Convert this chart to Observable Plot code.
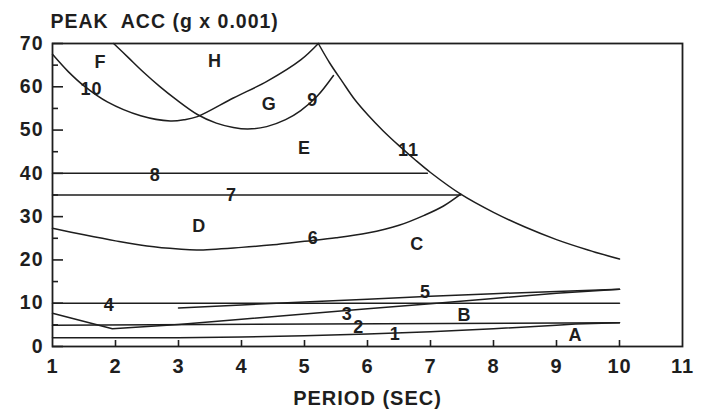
<!DOCTYPE html>
<html><head><meta charset="utf-8">
<script src="https://cdn.jsdelivr.net/npm/d3@7"></script>
<script src="https://cdn.jsdelivr.net/npm/@observablehq/plot@0.6"></script>
<style>
body{margin:0;background:#fff}
svg text{letter-spacing:1px}
</style>
</head><body><div id="chart"></div>
<script>
// Axis ticks
const xTickLabels = [1,2,3,4,5,6,7,8,9,10,11];
const xInnerTicks = [2,3,4,5,6,7,8,9,10];
const yTickLabels = [0,10,20,30,40,50,60,70];
const yMinorTicks = [5,15,25,35,45,55,65];

// Curves: [period (sec), peak acc (g x 0.001)]
const line1 = [[1,2],[2,2],[3,2],[4,2.2],[5,2.5],[6,2.9],[7,3.4],[8,4.1],[9,4.9],[9.3,5.2],[10,5.5]];
const line2 = [[1,4.9],[10,5.5]];
const line3 = [[1,7.7],[1.95,4.1],[3,5.1],[4,6.3],[5,7.5],[6,8.7],[7,9.9],[8,11.1],[9,12.3],[10,13.2]];
const line4 = [[1,10],[10,10]];
const line5 = [[3,8.9],[4,9.6],[5,10.3],[6,10.9],[7,11.6],[8,12.2],[9,12.7],[10,13.2]];
const line6 = [[1,27.3],[1.5,25.8],[2,24.4],[2.5,23.2],[3,22.5],[3.3,22.3],[4,22.9],[4.5,23.5],[5,24.3],[5.5,25.1],[6,26.2],[6.5,28],[6.9,30.3],[7.2,32.4],[7.48,35.2]];
const line7 = [[1,35],[7.48,35]];
const line8 = [[1,40],[6.95,40]];
const line9 = [[1.97,70],[2.2,66.8],[2.45,63.3],[2.7,60.1],[2.95,57.2],[3.3,53.6],[3.6,51.6],[3.87,50.6],[4.1,50.25],[4.4,50.8],[4.7,52.4],[4.94,54.5],[5.2,57.8],[5.46,62.6]];
const line10 = [[1,67.5],[1.25,63.5],[1.5,60.2],[1.87,56.5],[2.4,53.3],[2.87,52.1],[3.1,52.4],[3.3,53.1],[3.87,57.4],[4.41,61.3],[4.94,66.2],[5.22,70]];
const line11 = [[5.22,70],[5.4,65.5],[5.6,61.2],[5.8,57],[6.0,53.6],[6.25,49.8],[6.5,46.4],[6.75,43.2],[7.0,40.2],[7.48,35.2],[8.0,31.0],[8.5,27.6],[9.0,24.7],[9.5,22.3],[10,20.2]];

// In-plot labels
const labelText = ["F","H","G","9","E","10","11","8","7","D","6","C","4","5","3","2","B","1","A"];
const labelX = [1.76,3.58,4.44,5.13,5.0,1.62,6.65,2.63,3.84,3.33,5.14,6.79,1.9,6.92,5.68,5.86,7.54,6.44,9.3];
const labelY = [65.7,65.8,56.0,56.8,45.9,59.5,45.3,39.5,34.9,27.7,24.9,23.6,9.5,12.6,7.5,4.5,7.2,2.9,2.7];

const titleText = "PEAK\u00a0 ACC (g x 0.001)";
const xLabelText = "PERIOD (SEC)";

const ink = "#1e1e1e";
const lw = 1.5;
const straight = [line1,line2,line3,line4,line5,line7,line8];
const curved = [line6,line9,line10,line11];

const chart = Plot.plot({
  width: 702, height: 413,
  marginLeft: 52, marginRight: 20, marginTop: 43, marginBottom: 67,
  x: {domain: [1, 11], label: null},
  y: {domain: [0, 70], label: null},
  style: {fontFamily: "'Liberation Sans', Arial, sans-serif", background: "#fff", color: ink},
  marks: [
    ...straight.map(d => Plot.line(d, {stroke: ink, strokeWidth: lw})),
    ...curved.map(d => Plot.line(d, {stroke: ink, strokeWidth: lw, curve: "catmull-rom"})),
    Plot.frame({stroke: ink, strokeWidth: 1.8}),
    // inward tick marks (outward ticks shifted back inside the frame)
    Plot.axisX(xInnerTicks, {tickSize: 6, dy: -6, fill: "none", stroke: ink, strokeWidth: 1.6, label: null}),
    Plot.axisY(yTickLabels, {tickSize: 11, dx: 11, fill: "none", stroke: ink, strokeWidth: 1.6, label: null}),
    Plot.axisY(yMinorTicks, {tickSize: 6, dx: 6, fill: "none", stroke: ink, strokeWidth: 1.6, label: null}),
    Plot.axisX(xTickLabels, {tickSize: 0, tickPadding: 12, fontSize: 20, fontWeight: "bold", label: null}),
    Plot.axisY(yTickLabels, {tickSize: 0, tickPadding: 9, fontSize: 19.5, fontWeight: "bold", label: null}),
    Plot.text(labelText, {x: (d, i) => labelX[i], y: (d, i) => labelY[i], text: d => d, fontSize: 18, fontWeight: "bold", fill: ink}),
    Plot.text([titleText], {frameAnchor: "top-left", dx: -2, dy: -29, textAnchor: "start", fontSize: 19.5, fontWeight: "bold", fill: ink}),
    Plot.text([xLabelText], {frameAnchor: "bottom", dy: 58, fontSize: 20, fontWeight: "bold", fill: ink})
  ]
});
document.getElementById("chart").appendChild(chart);
</script>
</body></html>
